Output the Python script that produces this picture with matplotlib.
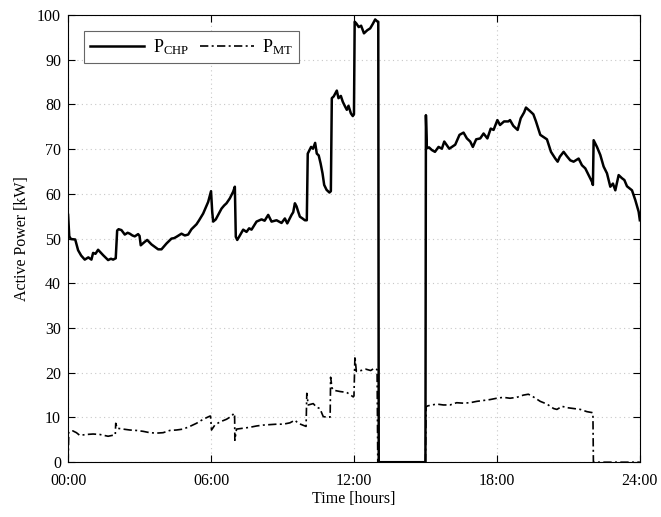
import matplotlib
matplotlib.use("Agg")
import matplotlib.pyplot as plt

plt.rcParams["font.family"] = ["Liberation Serif", "DejaVu Serif"]
plt.rcParams["mathtext.fontset"] = "custom"
plt.rcParams["mathtext.rm"] = "Liberation Serif"
plt.rcParams["mathtext.it"] = "Liberation Serif:italic"

# Time of day in hours
chp_time = [0.0, 0.05, 0.12, 0.3, 0.42, 0.55, 0.7, 0.85, 0.98, 1.05, 1.15, 1.26, 1.47,
            1.6, 1.68, 1.8, 1.89, 2.0, 2.06, 2.12, 2.24, 2.38, 2.5, 2.59, 2.7, 2.8,
            2.94, 3.0, 3.05, 3.2, 3.32, 3.5, 3.65, 3.78, 3.92, 4.13, 4.34, 4.45, 4.55,
            4.76, 4.9, 5.04, 5.18, 5.39, 5.5, 5.67, 5.88, 6.0, 6.05, 6.09, 6.2, 6.44,
            6.55, 6.65, 6.79, 6.93, 7.0, 7.04, 7.1, 7.2, 7.35, 7.49, 7.6, 7.7, 7.91,
            8.12, 8.25, 8.4, 8.54, 8.75, 8.96, 9.1, 9.2, 9.38, 9.45, 9.52, 9.59, 9.66,
            9.73, 9.84, 9.94, 10.02, 10.06, 10.2, 10.28, 10.37, 10.44, 10.52, 10.6,
            10.68, 10.75, 10.85, 10.97, 11.03, 11.07, 11.15, 11.28, 11.35, 11.45,
            11.53, 11.63, 11.7, 11.77, 11.87, 11.95, 12.0, 12.03, 12.1, 12.2, 12.3,
            12.42, 12.56, 12.68, 12.79, 12.89, 12.99, 13.02, 13.04, 15.0, 15.02,
            15.06, 15.15, 15.27, 15.4, 15.55, 15.69, 15.79, 16.0, 16.25, 16.43,
            16.6, 16.74, 16.88, 16.99, 17.13, 17.3, 17.44, 17.6, 17.74, 17.86, 18.02,
            18.13, 18.3, 18.48, 18.55, 18.69, 18.87, 19.0, 19.14, 19.22, 19.39,
            19.53, 19.64, 19.82, 19.99, 20.1, 20.27, 20.45, 20.55, 20.64, 20.8,
            20.94, 21.08, 21.22, 21.43, 21.57, 21.71, 21.85, 21.99, 22.03, 22.06,
            22.2, 22.34, 22.48, 22.62, 22.76, 22.87, 22.97, 23.11, 23.25, 23.35,
            23.46, 23.67, 23.81, 23.95, 24.0]
chp_power = [55.3, 50.5, 49.9, 49.8, 47.4, 46.2, 45.3, 45.8, 45.3, 46.8, 46.6, 47.5, 46.3,
             45.6, 45.2, 45.5, 45.3, 45.6, 51.8, 52.1, 51.9, 50.9, 51.3, 51.1, 50.7, 50.5,
             51.0, 50.6, 48.5, 49.2, 49.7, 48.7, 48.1, 47.6, 47.6, 48.9, 50.0, 50.1, 50.4,
             51.1, 50.7, 50.9, 52.1, 53.2, 54.1, 55.6, 58.2, 60.6, 56.0, 53.8, 54.3, 56.7,
             57.4, 57.9, 59.0, 60.5, 61.6, 50.4, 49.7, 50.6, 52.0, 51.5, 52.3, 52.0, 53.8,
             54.3, 54.0, 55.3, 53.8, 54.1, 53.5, 54.5, 53.4, 55.3, 55.9, 57.9, 57.2, 56.0,
             54.9, 54.5, 54.1, 54.1, 69.0, 70.5, 70.1, 71.4, 69.0, 68.6, 66.8,
             64.6, 62.0, 60.9, 60.3, 60.6, 81.4, 81.8, 83.1, 81.4, 81.9,
             80.6, 79.5, 78.8, 79.7, 78.0, 77.4, 77.8, 98.5, 98.1, 97.3, 97.6,
             95.9, 96.6, 97.0, 98.0, 99.0, 98.5, 98.5, 0.0, 0.0, 77.6,
             70.2, 70.4, 69.8, 69.4, 70.5, 70.1, 71.7, 70.1, 71.0, 73.2,
             73.7, 72.4, 71.7, 70.5, 72.2, 72.4, 73.5, 72.4, 74.6, 74.3, 76.5,
             75.4, 76.2, 76.2, 76.5, 75.2, 74.3, 76.9, 78.2, 79.3, 78.5,
             77.8, 76.2, 73.2, 72.6, 72.2, 69.4, 67.9, 67.2, 68.3, 69.4,
             68.4, 67.5, 67.2, 67.9, 66.4, 65.7, 64.2, 62.7, 62.0, 72.0,
             70.5, 68.7, 66.1, 64.6, 61.6, 62.3, 60.8, 64.2, 63.5, 63.1,
             61.7, 60.8, 58.6, 56.0, 54.1]

mt_time = [0.0, 0.03, 0.07, 0.2, 0.35, 0.49, 0.77, 1.05, 1.33, 1.68, 1.86, 1.98, 2.0,
           2.06, 2.31, 2.59, 2.87, 3.15, 3.43, 3.71, 3.99, 4.27, 4.55, 4.83, 5.11,
           5.39, 5.67, 5.95, 5.98, 6.02, 6.16, 6.37, 6.65, 6.86, 6.96, 6.99, 7.0,
           7.07, 7.35, 7.63, 7.91, 8.19, 8.47, 8.75, 9.03, 9.31, 9.52, 9.66, 9.99,
           10.02, 10.08, 10.29, 10.43, 10.57, 10.71, 10.92, 11.0, 11.02, 11.08,
           11.14, 11.42, 11.7, 11.97, 12.0, 12.04, 12.1, 12.3, 12.5, 12.7, 12.85,
           12.97, 13.0, 15.0, 15.03, 15.1, 15.47, 15.75, 16.03, 16.31, 16.59, 16.87,
           17.15, 17.43, 17.71, 17.99, 18.27, 18.55, 18.83, 19.11, 19.32, 19.53,
           19.82, 20.1, 20.38, 20.52, 20.73, 20.94, 21.22, 21.5, 21.78, 21.99,
           22.03, 22.05, 24.0]
mt_power = [0.0, 6.8, 6.9, 7.0, 6.6, 6.0, 6.2, 6.3, 6.2, 5.8, 6.0, 6.1, 8.7,
            7.6, 7.4, 7.2, 7.1, 6.9, 6.6, 6.5, 6.6, 7.1, 7.2, 7.4, 8.0,
            8.7, 9.6, 10.3, 10.3, 7.2, 8.3, 9.0, 9.6, 10.3, 10.9, 10.9, 4.9,
            7.4, 7.6, 7.8, 8.1, 8.3, 8.4, 8.5, 8.5, 8.8, 9.4, 8.7, 8.0,
            15.4, 12.8, 13.1, 12.3, 12.0, 10.2, 10.0, 10.1, 19.0, 16.6,
            16.1, 15.8, 15.6, 14.6, 14.8, 23.7, 20.3, 20.5, 20.8, 20.5, 21.0,
            20.7, 0.0, 0.0, 12.4, 12.6, 13.0, 12.8, 12.8, 13.3, 13.2, 13.3,
            13.6, 13.8, 14.0, 14.3, 14.5, 14.3, 14.5, 15.0, 15.2, 14.6,
            13.6, 13.0, 12.0, 11.8, 12.5, 12.2, 12.0, 11.8, 11.3, 11.1,
            11.0, 0.0, 0.0]

hour_ticks = [0, 6, 12, 18, 24]
hour_labels = ["00:00", "06:00", "12:00", "18:00", "24:00"]
power_ticks = list(range(0, 101, 10))

fig = plt.figure(figsize=(6.61, 5.17), dpi=100)
ax = fig.add_axes([0.103, 0.106, 0.865, 0.865])

ax.plot(chp_time, chp_power, color="black", lw=1.8, label=r"P$_{\mathrm{CHP}}$")
ax.plot(mt_time, mt_power, color="black", lw=1.2, linestyle=(0, (5, 2, 1.2, 2)),
        label=r"P$_{\mathrm{MT}}$")

ax.set_xlim(0, 24)
ax.set_ylim(0, 100)
ax.set_xticks(hour_ticks)
ax.set_xticklabels(hour_labels)
ax.set_yticks(power_ticks)
ax.tick_params(direction="in", top=True, right=True, labelsize=11.5, length=5, width=0.8)
ax.tick_params(axis="x", pad=8)
ax.tick_params(axis="y", pad=5)
ax.grid(True, color="#c8c8c8", linestyle=(0, (1, 3)), linewidth=0.8)
for s in ax.spines.values():
    s.set_linewidth(0.8)

ax.set_xlabel("Time [hours]", fontsize=11.5, labelpad=1)
ax.set_ylabel("Active Power [kW]", fontsize=11.5, labelpad=5)

leg = ax.legend(loc="upper left", ncol=2, fontsize=13, fancybox=False, framealpha=1,
                edgecolor="#666666", handlelength=3.0, handletextpad=0.45,
                columnspacing=0.6, borderpad=0.35, bbox_to_anchor=(0.012, 0.985))
leg.get_frame().set_linewidth(0.8)

fig.savefig("out.png", dpi=100)
